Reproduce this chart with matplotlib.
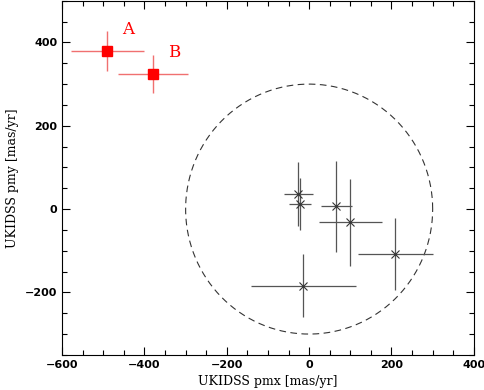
import numpy as np
import matplotlib
matplotlib.use("Agg")
import matplotlib.pyplot as plt
from matplotlib.ticker import MultipleLocator

# red candidates A, B
red_x = [-490, -379]
red_y = [380, 325]
red_xerr = [89, 84]
red_yerr = [48, 46]
red_names = ["A", "B"]

# black comparison objects
blk_x = [-26, -22, 66, 100, 209, -14]
blk_y = [36, 12, 7, -32, -108, -184]
blk_xerr = [35, 27, 37, 77, 91, 127]
blk_yerr = [77, 62, 109, 105, 86, 76]

radius = 300

fig = plt.figure(figsize=(4.85, 3.90), dpi=100)
ax = fig.add_axes([0.128, 0.09, 0.849, 0.908])

t = np.linspace(0, 2 * np.pi, 400)
ax.plot(radius * np.cos(t), radius * np.sin(t), color="#333333", lw=0.8,
        dashes=(6, 4))

ax.errorbar(blk_x, blk_y, xerr=blk_xerr, yerr=blk_yerr, fmt="x", ms=6,
            color="#333333", ecolor="#555555", elinewidth=0.9, mew=0.8, capsize=0)

ax.errorbar(red_x, red_y, xerr=red_xerr, yerr=red_yerr, fmt="s", ms=7,
            color="red", ecolor="#f07070", elinewidth=1.0, capsize=0)

for x, y, n in zip(red_x, red_y, red_names):
    ax.text(x + 36, y + 40, n, color="red", fontsize=12, family="DejaVu Serif")

ax.set_xlim(-600, 400)
ax.set_ylim(-350, 500)
ax.xaxis.set_major_locator(MultipleLocator(200))
ax.xaxis.set_minor_locator(MultipleLocator(50))
ax.yaxis.set_major_locator(MultipleLocator(200))
ax.yaxis.set_minor_locator(MultipleLocator(50))
ax.tick_params(which="both", direction="in", top=True, right=True, labelsize=8)
ax.tick_params(which="major", length=6, width=0.8)
ax.tick_params(which="minor", length=3.5, width=0.8)
for lab in ax.get_xticklabels() + ax.get_yticklabels():
    lab.set_fontweight("bold")

ax.set_xlabel("UKIDSS pmx [mas/yr]", family="DejaVu Serif", fontsize=9)
ax.set_ylabel("UKIDSS pmy [mas/yr]", family="DejaVu Serif", fontsize=9)

fig.savefig("out.png", dpi=100)
